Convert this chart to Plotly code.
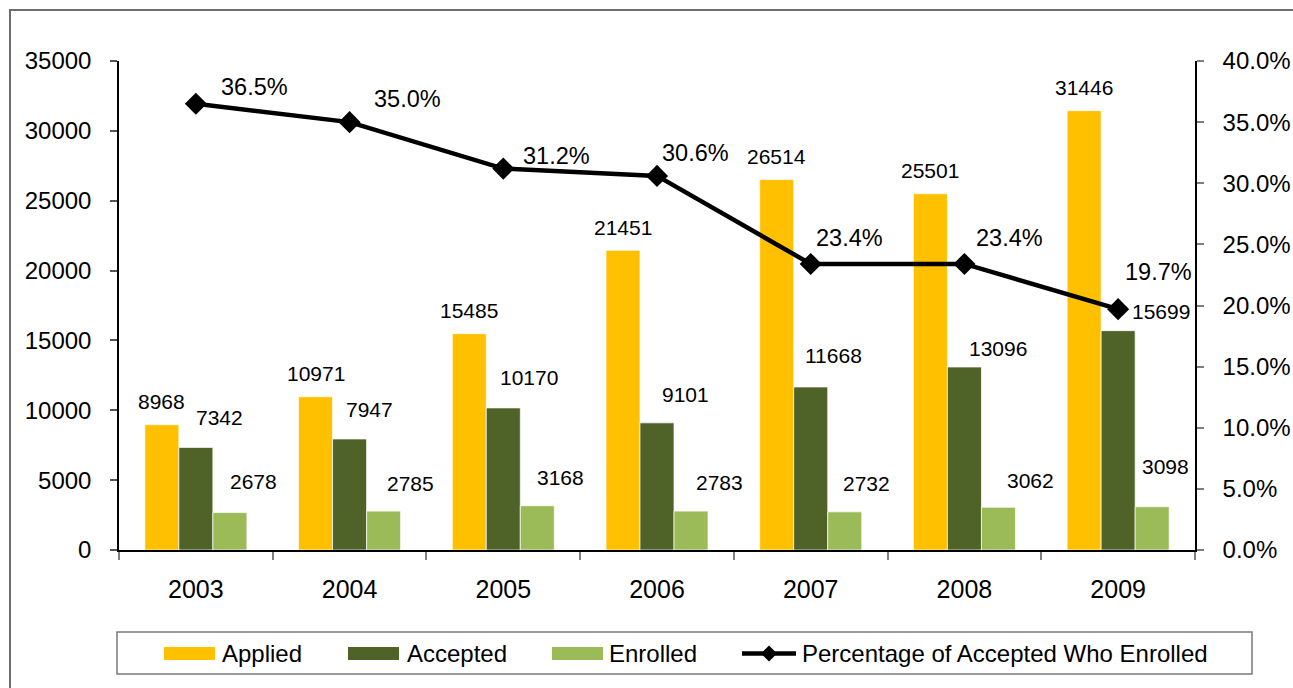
import plotly.graph_objects as go

# ---- data ----
years = ["2003", "2004", "2005", "2006", "2007", "2008", "2009"]
applied = [8968, 10971, 15485, 21451, 26514, 25501, 31446]
accepted = [7342, 7947, 10170, 9101, 11668, 13096, 15699]
enrolled = [2678, 2785, 3168, 2783, 2732, 3062, 3098]
pct_enrolled = [0.365, 0.350, 0.312, 0.306, 0.234, 0.234, 0.197]

y_ticks = [0, 5000, 10000, 15000, 20000, 25000, 30000, 35000]
series_names = ["Applied", "Accepted", "Enrolled", "Percentage of Accepted Who Enrolled"]

# ---- label offsets (px) relative to bar top / marker ----
acc_dx = [24, 20, 26, 28, 23, 34, 43]
acc_dy = [30, 29, 30, 28, 31, 19, 19]
enr_dx = [24, 27, 23, 28, 22, 32, 13]
enr_dy = [31, 28, 28, 29, 28, 27, 40]
pct_dx = [59, 58, 53, 38, 39, 45, 40]
pct_dy = [17, 23, 13, 23, 26, 26, 37]
app_dy = 23

FONT = "Liberation Sans, Arial, sans-serif"
C_APP = "#FFC000"
C_ACC = "#4F6228"
C_ENR = "#9BBB59"
BARGAP = 0.336
bar_w = (1 - BARGAP) / 3
LBL = 21

fig = go.Figure()
edge = dict(color="rgba(255,255,255,0.7)", width=1)
fig.add_trace(go.Bar(name=series_names[0], x=years, y=applied, marker=dict(color=C_APP, line=edge)))
fig.add_trace(go.Bar(name=series_names[1], x=years, y=accepted, marker=dict(color=C_ACC, line=edge)))
fig.add_trace(go.Bar(name=series_names[2], x=years, y=enrolled, marker=dict(color=C_ENR, line=edge)))
fig.add_trace(go.Scatter(name=series_names[3], x=years, y=pct_enrolled,
                         yaxis="y2", mode="lines+markers",
                         line=dict(color="black", width=4.5),
                         marker=dict(symbol="diamond", size=17, color="black")))

ann = []
for i in range(len(years)):
    ann.append(dict(x=i - bar_w, y=applied[i], xref="x", yref="y", text=str(applied[i]),
                    showarrow=False, yshift=app_dy, font=dict(size=LBL, color="black", family=FONT)))
    ann.append(dict(x=i, y=accepted[i], xref="x", yref="y", text=str(accepted[i]),
                    showarrow=False, xshift=acc_dx[i], yshift=acc_dy[i],
                    font=dict(size=LBL, color="black", family=FONT)))
    ann.append(dict(x=i + bar_w, y=enrolled[i], xref="x", yref="y", text=str(enrolled[i]),
                    showarrow=False, xshift=enr_dx[i], yshift=enr_dy[i],
                    font=dict(size=LBL, color="black", family=FONT)))
    ann.append(dict(x=i, y=pct_enrolled[i], xref="x", yref="y2", text=f"{pct_enrolled[i]*100:.1f}%",
                    showarrow=False, xshift=pct_dx[i], yshift=pct_dy[i],
                    font=dict(size=23.5, color="black", family=FONT)))

L, R, T, B = 119, 98, 61, 138
W, H = 1293, 688
pw, ph = W - L - R, H - T - B

def px(x):
    return (x - L) / pw

def py(y):
    return (H - B - y) / ph

shapes = [
    # outer chart frame
    dict(type="rect", xref="paper", yref="paper", x0=px(10), x1=px(1310), y0=py(705), y1=py(10),
         line=dict(color="#6e6e6e", width=2), fillcolor="rgba(0,0,0,0)", layer="below"),
    # legend box
    dict(type="rect", xref="paper", yref="paper", x0=px(117), x1=px(1252), y0=py(674), y1=py(632),
         line=dict(color="#7a7a7a", width=1.5), fillcolor="rgba(0,0,0,0)"),
]

# ---- custom legend (wide swatches like the original) ----
leg_y = 653.5
swatch_x = [164, 348, 552, 742]
swatch_w = 51
swatch_colors = [C_APP, C_ACC, C_ENR]
for k in range(3):
    shapes.append(dict(type="rect", xref="paper", yref="paper",
                       x0=px(swatch_x[k]), x1=px(swatch_x[k] + swatch_w),
                       y0=py(leg_y + 6.5), y1=py(leg_y - 6.5),
                       line=dict(width=0), fillcolor=swatch_colors[k]))
shapes.append(dict(type="line", xref="paper", yref="paper",
                   x0=px(swatch_x[3]), x1=px(swatch_x[3] + 54), y0=py(leg_y), y1=py(leg_y),
                   line=dict(color="black", width=4.5)))
shapes.append(dict(type="path", xref="paper", yref="paper",
                   path=(f"M {px(swatch_x[3] + 27 - 8)},{py(leg_y)} L {px(swatch_x[3] + 27)},{py(leg_y - 8)} "
                         f"L {px(swatch_x[3] + 27 + 8)},{py(leg_y)} L {px(swatch_x[3] + 27)},{py(leg_y + 8)} Z"),
                   line=dict(width=0), fillcolor="black"))
text_x = [220, 405, 607, 800]
for k in range(4):
    ann.append(dict(x=px(text_x[k]), y=py(leg_y), xref="paper", yref="paper", text=series_names[k],
                    showarrow=False, xanchor="left", yanchor="middle",
                    font=dict(size=24, color="black", family=FONT)))

fig.update_layout(
    width=W, height=H,
    margin=dict(l=L, r=R, t=T, b=B, autoexpand=False),
    paper_bgcolor="white", plot_bgcolor="white",
    font=dict(family=FONT, color="black", size=24),
    barmode="group", bargap=BARGAP, bargroupgap=0,
    showlegend=False,
    xaxis=dict(type="category", showline=True, linecolor="black", linewidth=1.5,
               ticks="outside", tickson="boundaries", ticklen=8, tickcolor="#808080", tickwidth=1.5,
               tickfont=dict(size=25), ticklabelstandoff=16, showgrid=False, zeroline=False),
    yaxis=dict(range=[0, 35000], tickvals=y_ticks, ticktext=[str(v) for v in y_ticks],
               showline=True, linecolor="black", linewidth=1.5, ticks="outside", ticklen=7,
               tickcolor="#555555", tickwidth=1.5, tickfont=dict(size=24), ticklabelstandoff=14,
               showgrid=False, zeroline=False),
    yaxis2=dict(range=[0, 0.4], dtick=0.05, tickformat=".1%", overlaying="y", side="right",
                showline=True, linecolor="black", linewidth=1.5, ticks="outside", ticklen=7,
                tickcolor="#808080", tickwidth=1.5, tickfont=dict(size=24), ticklabelstandoff=14,
                showgrid=False, zeroline=False),
    annotations=ann,
    shapes=shapes,
)

fig.write_html("out.html", config={"displayModeBar": False},
               post_script="document.body.style.margin='0px';document.body.style.overflow='hidden';")
